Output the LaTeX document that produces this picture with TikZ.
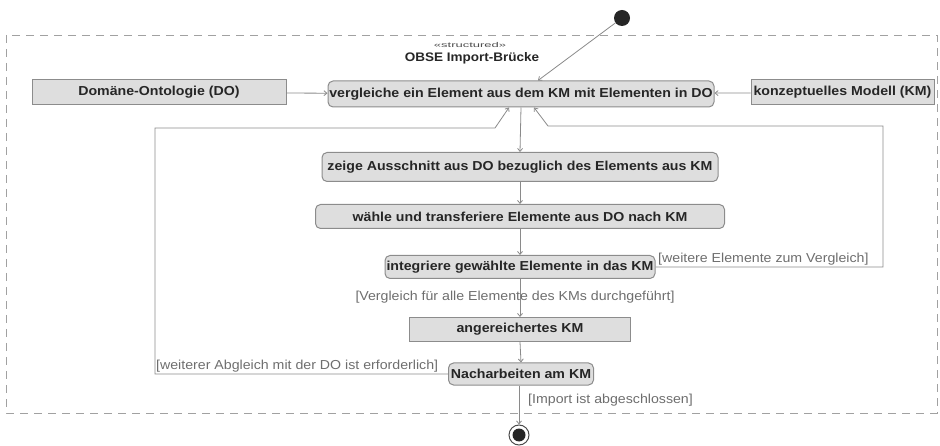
\documentclass[tikz,border=0pt]{standalone}
\usepackage{fontspec}
\setmainfont{Liberation Sans}[FakeStretch=1.09]
\usetikzlibrary{arrows.meta,calc}
\definecolor{boxfill}{HTML}{DEDEDE}
\definecolor{boxline}{HTML}{8C8C8C}
\definecolor{lineclr}{HTML}{8A8A8A}
\definecolor{guardclr}{HTML}{6E6E6E}
\begin{document}
\begin{tikzpicture}[x=1pt,y=-1pt,
  action/.style={draw=boxline,line width=1pt,fill=boxfill,rounded corners=5pt,
    inner sep=0pt,font=\fontsize{13}{15}\selectfont\bfseries,text=black!85},
  objbox/.style={draw=boxline,line width=1pt,fill=boxfill,
    inner sep=0pt,font=\fontsize{13}{15}\selectfont\bfseries,text=black!85},
  flow/.style={draw=lineclr,line width=0.8pt,-{Straight Barb[length=3pt,width=5pt]}},
  guard/.style={font=\fontsize{13}{15}\selectfont,text=guardclr,inner sep=0pt}]
\useasboundingbox (0,0) rectangle (940,446);
% frame
\draw[draw=lineclr!80,line width=0.8pt,dash pattern=on 8pt off 6pt] (6,35) rectangle (937,413);
\node[text=black!70] (stereo) at (470,45) {\scalebox{1.7}[1]{\fontsize{7}{8}\selectfont\textless\textless structured\textgreater\textgreater}};
\node[font=\fontsize{12.4}{14}\selectfont\bfseries,text=black!85] (title) at (472,58) {OBSE Import-Brücke};
% start / end
\node[circle,fill=black!85,minimum size=16pt,inner sep=0pt] (start) at (622,18) {};
\node[circle,draw=black!70,line width=1pt,minimum size=20pt,inner sep=0pt] (endring) at (519,435) {};
\node[circle,fill=black!85,minimum size=13pt,inner sep=0pt] (endc) at (519,435) {};
% nodes
\node[action,minimum width=386pt,minimum height=26pt] (main) at (521,94) {vergleiche ein Element aus dem KM mit Elementen in DO};
\node[objbox,minimum width=254pt,minimum height=25pt] (do) at (159,92.5) {Domäne-Ontologie (DO)};
\node[objbox,minimum width=183pt,minimum height=25pt] (km) at (842.5,92.5) {konzeptuelles Modell (KM)};
\node[action,minimum width=396pt,minimum height=29pt] (zeige) at (520,167) {zeige Ausschnitt aus DO bezuglich des Elements aus KM};
\node[action,minimum width=409pt,minimum height=24pt] (waehle) at (520,216.5) {wähle und transferiere Elemente aus DO nach KM};
\node[action,minimum width=270pt,minimum height=23pt] (integ) at (520,267) {integriere gewählte Elemente in das KM};
\node[objbox,minimum width=221pt,minimum height=24pt] (anger) at (520,329.5) {angereichertes KM};
\node[action,minimum width=145pt,minimum height=22pt] (nach) at (521,374) {Nacharbeiten am KM};
% connectors
\draw[flow] (start) -- ([xshift=17pt]main.north);
\draw[flow] (do) -- (main);
\draw[flow] (km) -- (main);
\draw[flow] (main.south) -- (zeige.north);
\draw[flow] (zeige.south) -- (waehle.north);
\draw[flow] (waehle.south) -- (integ.north);
\draw[flow] (integ.south) -- (anger.north);
\draw[flow] (anger.south) -- (nach.north);
\draw[flow] ([xshift=-2pt]nach.south) -- (endring.north);
% loops
\coordinate (r1) at (883,267);
\coordinate (r2) at (883,126);
\coordinate (r3) at (548,126);
\draw[flow] (integ.east) -- (r1) -- (r2) -- (r3) -- ([xshift=13pt]main.south);
\coordinate (l1) at (155,374);
\coordinate (l2) at (155,128);
\coordinate (l3) at (495,128);
\draw[flow] (nach.west) -- (l1) -- (l2) -- (l3) -- ([xshift=-12pt]main.south);
% guards
\node[guard,anchor=south west] (g1) at (658,265) {[weitere Elemente zum Vergleich]};
\node[guard] (g2) at (515,297) {[Vergleich für alle Elemente des KMs durchgeführt]};
\node[guard,anchor=south west] (g3) at (156,372) {[weiterer Abgleich mit der DO ist erforderlich]};
\node[guard,anchor=west] (g4) at (528,400) {[Import ist abgeschlossen]};
\end{tikzpicture}
\end{document}
